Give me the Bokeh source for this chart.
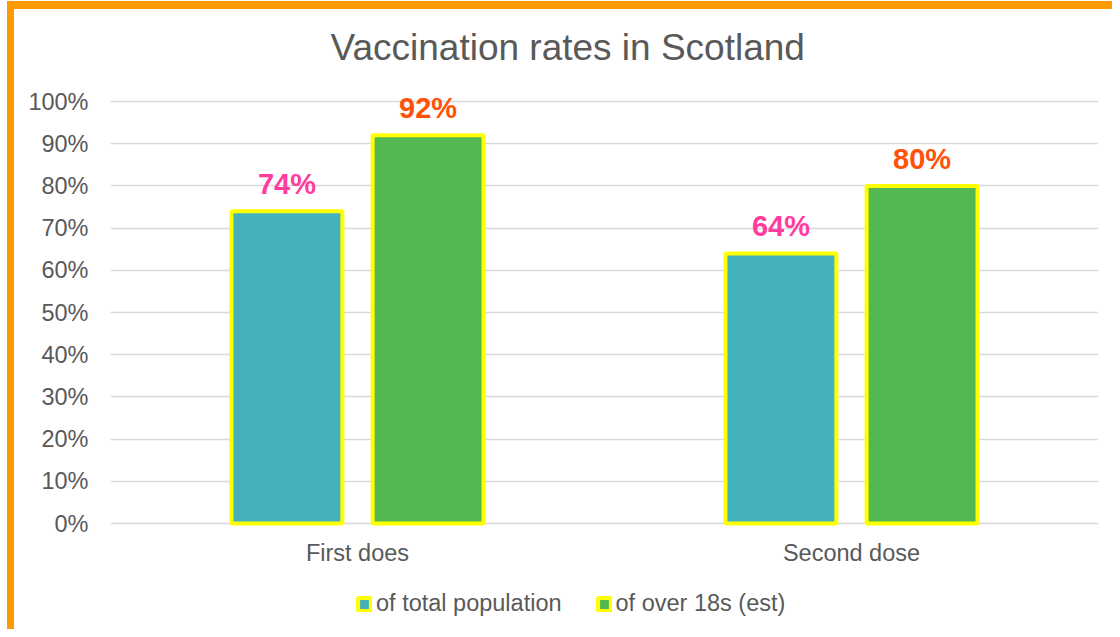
from bokeh.plotting import figure
from bokeh.models import (ColumnDataSource, FactorRange, Range1d, FixedTicker, NumeralTickFormatter,
                          Legend, LegendItem, CategoricalAxis, Label)
from bokeh.transform import dodge
from bokeh.core.properties import value
from bokeh.embed import file_html
from bokeh.resources import INLINE

# ---- data ----
title_text = "Vaccination rates in Scotland"
categories = ["First does", "Second dose"]
series_names = ["of total population", "of over 18s (est)"]
total_population = [0.74, 0.64]
over_18s = [0.92, 0.80]
total_labels = ["74%", "64%"]
over18_labels = ["92%", "80%"]
y_ticks = [0.0, 0.1, 0.2, 0.3, 0.4, 0.5, 0.6, 0.7, 0.8, 0.9, 1.0]

FONT = "Liberation Sans"
GREY = "#595959"

src = ColumnDataSource(dict(
    cat=categories,
    total=total_population,
    over=over_18s,
    total_lbl=total_labels,
    over_lbl=over18_labels,
))

# the frame spans the whole canvas height; 100% sits at 101px, 0% at 523px
H, TOP, ZERO = 629, 101, 523
PX = ZERO - TOP
y_start = -(H - ZERO) / PX
y_end = 1.0 + TOP / PX

p = figure(
    x_range=FactorRange(factors=categories),
    y_range=Range1d(y_start, y_end),
    width=1112, height=H, title=None,
    output_backend="svg", toolbar_location=None,
    min_border_left=110, min_border_right=14, min_border_top=0, min_border_bottom=0,
    x_axis_location=None,
)
p.styles = {"background-color": "white",
            "box-shadow": "inset 7px 1px 0 0 #ffffff, inset 14px 9px 0 0 #FF9900"}
p.outline_line_color = None
p.background_fill_color = None
p.border_fill_color = None

off = 0.1429
bw = 0.2245
r1 = p.vbar(x=dodge("cat", -off, range=p.x_range), top="total", width=bw, bottom=0,
            source=src, fill_color="#43B2BD", line_color="#FFFF00", line_width=4)
r2 = p.vbar(x=dodge("cat", off, range=p.x_range), top="over", width=bw, bottom=0,
            source=src, fill_color="#53B752", line_color="#FFFF00", line_width=4)

p.text(x=dodge("cat", -off, range=p.x_range), y="total", text="total_lbl", source=src,
       text_align="center", text_baseline="middle", y_offset=-27,
       text_font=value(FONT), text_font_size="29px", text_font_style="bold", text_color="#FF3C9E")
p.text(x=dodge("cat", off, range=p.x_range), y="over", text="over_lbl", source=src,
       text_align="center", text_baseline="middle", y_offset=-27,
       text_font=value(FONT), text_font_size="29px", text_font_style="bold", text_color="#FF5208")

# chart title
p.add_layout(Label(x=220, y=H - 46.5, x_units="screen", y_units="screen", text=title_text,
                   text_font=FONT, text_font_size="37px", text_color=GREY,
                   text_align="left", text_baseline="middle"))

# category axis fixed at 0%
xaxis = CategoricalAxis(fixed_location=0)
p.add_layout(xaxis, "below")

p.yaxis.ticker = FixedTicker(ticks=y_ticks)
p.yaxis.formatter = NumeralTickFormatter(format="0%")
for ax in (xaxis, p.yaxis[0]):
    ax.axis_line_color = None
    ax.major_tick_line_color = None
    ax.minor_tick_line_color = None
    ax.major_tick_out = 0
    ax.major_tick_in = 0
    ax.major_label_text_font = FONT
    ax.major_label_text_font_size = "23.5px"
    ax.major_label_text_color = GREY
p.yaxis.major_label_standoff = 22
xaxis.major_label_standoff = 16

p.xgrid.grid_line_color = None
p.ygrid.ticker = FixedTicker(ticks=y_ticks)
p.ygrid.grid_line_color = "#D9D9D9"
p.ygrid.grid_line_width = 1.5

legend = Legend(items=[LegendItem(label=series_names[0], renderers=[r1]),
                       LegendItem(label=series_names[1], renderers=[r2])],
                orientation="horizontal", location=(246, 12),
                padding=0, margin=0, spacing=34, label_standoff=4,
                glyph_width=16, glyph_height=16,
                border_line_color=None, background_fill_alpha=0,
                label_text_font=FONT, label_text_font_size="23.5px", label_text_color=GREY)
p.add_layout(legend, "center")

open("out.html", "w").write(file_html(p, INLINE))
